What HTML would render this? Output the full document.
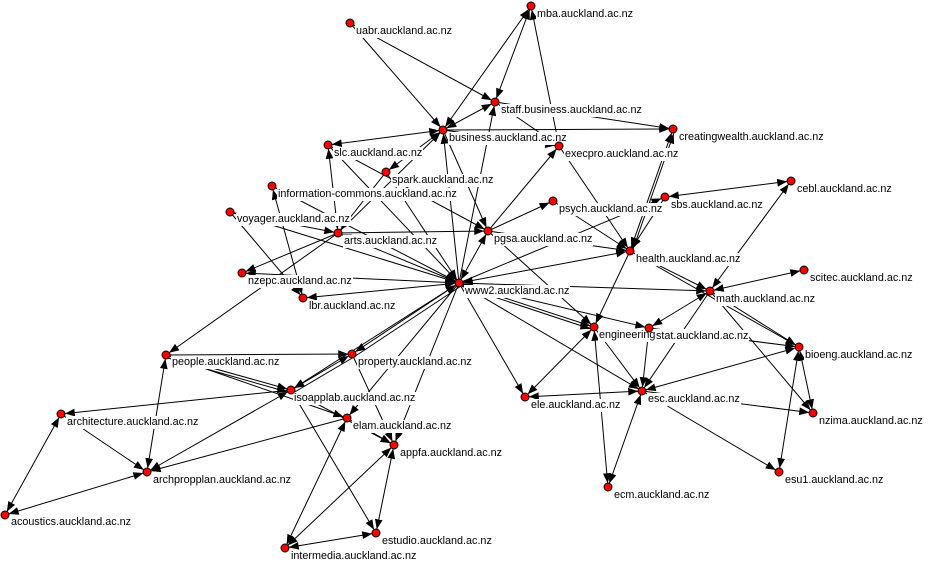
<!DOCTYPE html>
<html>
<head>
<meta charset="utf-8">
<style>
html,body{margin:0;padding:0;background:#fff;}
#wrap{position:relative;width:928px;height:573px;overflow:hidden;background:#fff;}
svg{position:absolute;left:0;top:0;}
#edges{z-index:1;}
#labels{position:absolute;left:0;top:0;width:928px;height:573px;z-index:2;}
#nodes{z-index:3;}
#labels span{position:absolute;font-family:"Liberation Sans",Arial,sans-serif;font-size:10.8px;line-height:13px;height:13px;background:#fff;color:#000;padding:0 1px;white-space:nowrap;}
line{stroke:#000;stroke-width:1;}
line.e{marker-end:url(#a);}
line.b{marker-start:url(#a);marker-end:url(#a);}
circle{fill:#ff0000;stroke:#000;stroke-width:1;}
</style>
</head>
<body>
<div id="wrap">
<svg id="edges" width="928" height="573" viewBox="0 0 928 573">
<defs>
<marker id="a" markerUnits="userSpaceOnUse" orient="auto-start-reverse" refX="0" refY="0" markerWidth="20" markerHeight="20" overflow="visible">
<path d="M-4.5,0 L-13.5,-3.5 L-13.5,3.5 Z" fill="#000" stroke="#000" stroke-width="0.5"/>
</marker>
</defs>
<!-- business cluster -->
<line class="e" x1="350" y1="23" x2="443" y2="130"/>
<line class="e" x1="350" y1="23" x2="495" y2="102"/>
<line class="b" x1="531" y1="6" x2="443" y2="130"/>
<line class="b" x1="531" y1="6" x2="495" y2="102"/>
<line class="e" x1="559" y1="146" x2="531" y2="6"/>
<line class="b" x1="495" y1="102" x2="443" y2="130"/>
<line class="b" x1="443" y1="130" x2="328" y2="145"/>
<line class="e" x1="443" y1="130" x2="673" y2="129"/>
<line class="e" x1="495" y1="102" x2="673" y2="129"/>
<line class="e" x1="443" y1="130" x2="559" y2="146"/>
<line class="e" x1="495" y1="102" x2="559" y2="146"/>
<line class="b" x1="443" y1="130" x2="386" y2="172"/>
<line class="e" x1="338" y1="233" x2="443" y2="130"/>
<line class="e" x1="459" y1="283" x2="443" y2="130"/>
<line class="e" x1="443" y1="130" x2="488" y2="231"/>
<line class="e" x1="459" y1="283" x2="495" y2="102"/>
<!-- slc / spark / info / voyager / arts -->
<line class="b" x1="328" y1="145" x2="338" y2="233"/>
<line class="e" x1="328" y1="145" x2="459" y2="283"/>
<line class="e" x1="328" y1="145" x2="488" y2="231"/>
<line class="e" x1="386" y1="172" x2="459" y2="283"/>
<line class="e" x1="386" y1="172" x2="338" y2="233"/>
<line class="e" x1="272" y1="186" x2="459" y2="283"/>
<line class="b" x1="303" y1="298" x2="272" y2="186"/>
<line class="e" x1="230" y1="212" x2="303" y2="298"/>
<line class="e" x1="230" y1="212" x2="338" y2="233"/>
<line class="e" x1="230" y1="212" x2="459" y2="283"/>
<line class="e" x1="338" y1="233" x2="242" y2="273"/>
<line class="e" x1="338" y1="233" x2="166" y2="355"/>
<line class="e" x1="338" y1="233" x2="488" y2="231"/>
<line class="b" x1="338" y1="233" x2="459" y2="283"/>
<line class="b" x1="242" y1="273" x2="459" y2="283"/>
<line class="b" x1="459" y1="283" x2="303" y2="298"/>
<!-- pgsa / health cluster -->
<line class="e" x1="488" y1="231" x2="559" y2="146"/>
<line class="e" x1="488" y1="231" x2="553" y2="201"/>
<line class="e" x1="488" y1="231" x2="630" y2="251"/>
<line class="e" x1="488" y1="231" x2="594" y2="327"/>
<line class="b" x1="459" y1="283" x2="488" y2="231"/>
<line class="e" x1="559" y1="146" x2="630" y2="251"/>
<line class="b" x1="673" y1="129" x2="630" y2="251"/>
<line class="b" x1="675" y1="130" x2="632" y2="252"/>
<line class="b" x1="665" y1="197" x2="791" y2="181"/>
<line class="e" x1="665" y1="197" x2="630" y2="251"/>
<line class="e" x1="459" y1="283" x2="665" y2="197"/>
<line class="e" x1="553" y1="201" x2="630" y2="251"/>
<line class="b" x1="710" y1="291" x2="791" y2="181"/>
<line class="b" x1="710" y1="291" x2="804" y2="270"/>
<line class="b" x1="459" y1="283" x2="630" y2="251"/>
<line class="e" x1="630" y1="251" x2="710" y2="291"/>
<line class="e" x1="630" y1="251" x2="594" y2="327"/>
<line class="e" x1="630" y1="251" x2="799" y2="347"/>
<line class="e" x1="459" y1="283" x2="710" y2="291"/>
<line class="b" x1="710" y1="291" x2="649" y2="328"/>
<line class="e" x1="710" y1="291" x2="799" y2="347"/>
<line class="e" x1="710" y1="291" x2="813" y2="413"/>
<line class="e" x1="710" y1="291" x2="642" y2="391"/>
<line class="e" x1="459" y1="283" x2="649" y2="328"/>
<line class="b" x1="459" y1="283" x2="594" y2="327"/>
<line class="e" x1="461" y1="286" x2="594" y2="330"/>
<line class="e" x1="594" y1="327" x2="642" y2="391"/>
<line class="b" x1="594" y1="327" x2="608" y2="487"/>
<line class="b" x1="525" y1="397" x2="594" y2="327"/>
<line class="e" x1="649" y1="328" x2="642" y2="391"/>
<line class="e" x1="649" y1="328" x2="799" y2="347"/>
<line class="e" x1="459" y1="283" x2="642" y2="391"/>
<line class="b" x1="525" y1="397" x2="642" y2="391"/>
<line class="b" x1="799" y1="347" x2="642" y2="391"/>
<line class="e" x1="642" y1="391" x2="813" y2="413"/>
<line class="e" x1="642" y1="391" x2="779" y2="472"/>
<line class="b" x1="608" y1="487" x2="642" y2="391"/>
<line class="b" x1="799" y1="347" x2="813" y2="413"/>
<line class="b" x1="799" y1="347" x2="779" y2="472"/>
<line class="e" x1="459" y1="283" x2="525" y2="397"/>
<!-- lower-left cluster -->
<line class="e" x1="166" y1="355" x2="352" y2="354"/>
<line class="e" x1="166" y1="355" x2="291" y2="390"/>
<line class="e" x1="168" y1="358" x2="291" y2="393"/>
<line class="e" x1="166" y1="355" x2="347" y2="418"/>
<line class="b" x1="166" y1="355" x2="147" y2="472"/>
<line class="e" x1="291" y1="390" x2="61" y2="414"/>
<line class="e" x1="61" y1="414" x2="147" y2="472"/>
<line class="b" x1="61" y1="414" x2="5" y2="515"/>
<line class="b" x1="5" y1="515" x2="147" y2="472"/>
<line class="b" x1="291" y1="390" x2="147" y2="472"/>
<line class="e" x1="347" y1="418" x2="147" y2="472"/>
<line class="b" x1="352" y1="354" x2="291" y2="390"/>
<line x1="354" y1="357" x2="293" y2="393"/>
<line class="e" x1="459" y1="283" x2="347" y2="418"/>
<line class="e" x1="459" y1="283" x2="394" y2="445"/>
<line class="e" x1="352" y1="354" x2="394" y2="445"/>
<line class="e" x1="347" y1="418" x2="394" y2="445"/>
<line class="e" x1="291" y1="390" x2="394" y2="445"/>
<line class="b" x1="394" y1="445" x2="376" y2="533"/>
<line class="e" x1="291" y1="390" x2="376" y2="533"/>
<line class="b" x1="285" y1="548" x2="376" y2="533"/>
<line class="b" x1="285" y1="548" x2="347" y2="418"/>
<line class="b" x1="285" y1="548" x2="394" y2="445"/>
<line class="b" x1="459" y1="283" x2="352" y2="354"/>
<line x1="461" y1="286" x2="354" y2="357"/>
<line class="b" x1="459" y1="283" x2="291" y2="390"/>
</svg>

<div id="labels">
<span style="left:536px;top:7.5px">mba.auckland.ac.nz</span>
<span style="left:355px;top:24.5px">uabr.auckland.ac.nz</span>
<span style="left:500px;top:103.5px">staff.business.auckland.ac.nz</span>
<span style="left:448px;top:131.5px">business.auckland.ac.nz</span>
<span style="left:333px;top:146.5px">slc.auckland.ac.nz</span>
<span style="left:391px;top:173.5px">spark.auckland.ac.nz</span>
<span style="left:277px;top:187.5px">information-commons.auckland.ac.nz</span>
<span style="left:678px;top:130.5px">creatingwealth.auckland.ac.nz</span>
<span style="left:564px;top:147.5px">execpro.auckland.ac.nz</span>
<span style="left:796px;top:182.5px">cebl.auckland.ac.nz</span>
<span style="left:670px;top:198.5px">sbs.auckland.ac.nz</span>
<span style="left:558px;top:202.5px">psych.auckland.ac.nz</span>
<span style="left:493px;top:232.5px">pgsa.auckland.ac.nz</span>
<span style="left:635px;top:252.5px">health.auckland.ac.nz</span>
<span style="left:809px;top:271.5px">scitec.auckland.ac.nz</span>
<span style="left:236px;top:212.5px">voyager.auckland.ac.nz</span>
<span style="left:343px;top:234.5px">arts.auckland.ac.nz</span>
<span style="left:247px;top:274.5px">nzepc.auckland.ac.nz</span>
<span style="left:308px;top:299.5px">lbr.auckland.ac.nz</span>
<span style="left:464px;top:284.5px">www2.auckland.ac.nz</span>
<span style="left:715px;top:292.5px">math.auckland.ac.nz</span>
<span style="left:598px;top:328.5px">engineering.auckland.ac.nz</span>
<span style="left:655px;top:329.5px">stat.auckland.ac.nz</span>
<span style="left:804px;top:348.5px">bioeng.auckland.ac.nz</span>
<span style="left:647px;top:392.5px">esc.auckland.ac.nz</span>
<span style="left:818px;top:414.5px">nzima.auckland.ac.nz</span>
<span style="left:784px;top:473.5px">esu1.auckland.ac.nz</span>
<span style="left:613px;top:488.5px">ecm.auckland.ac.nz</span>
<span style="left:171px;top:355.5px">people.auckland.ac.nz</span>
<span style="left:357px;top:355.5px">property.auckland.ac.nz</span>
<span style="left:293px;top:391.5px">isoapplab.auckland.ac.nz</span>
<span style="left:66px;top:415.5px">architecture.auckland.ac.nz</span>
<span style="left:152px;top:473.5px">archpropplan.auckland.ac.nz</span>
<span style="left:10px;top:515.5px">acoustics.auckland.ac.nz</span>
<span style="left:352px;top:419.5px">elam.auckland.ac.nz</span>
<span style="left:399px;top:446.5px">appfa.auckland.ac.nz</span>
<span style="left:381px;top:534.5px">estudio.auckland.ac.nz</span>
<span style="left:290px;top:549.5px">intermedia.auckland.ac.nz</span>
<span style="left:530px;top:398.5px">ele.auckland.ac.nz</span>
</div>

<svg id="nodes" width="928" height="573" viewBox="0 0 928 573">
<circle cx="531" cy="6" r="4"/>
<circle cx="350" cy="23" r="4"/>
<circle cx="495" cy="102" r="4"/>
<circle cx="443" cy="130" r="4"/>
<circle cx="328" cy="145" r="4"/>
<circle cx="386" cy="172" r="4"/>
<circle cx="272" cy="186" r="4"/>
<circle cx="673" cy="129" r="4"/>
<circle cx="559" cy="146" r="4"/>
<circle cx="791" cy="181" r="4"/>
<circle cx="665" cy="197" r="4"/>
<circle cx="553" cy="201" r="4"/>
<circle cx="488" cy="231" r="4"/>
<circle cx="630" cy="251" r="4"/>
<circle cx="804" cy="270" r="4"/>
<circle cx="230" cy="212" r="4"/>
<circle cx="338" cy="233" r="4"/>
<circle cx="242" cy="273" r="4"/>
<circle cx="303" cy="298" r="4"/>
<circle cx="459" cy="283" r="4"/>
<circle cx="710" cy="291" r="4"/>
<circle cx="594" cy="327" r="4"/>
<circle cx="649" cy="328" r="4"/>
<circle cx="799" cy="347" r="4"/>
<circle cx="642" cy="391" r="4"/>
<circle cx="813" cy="413" r="4"/>
<circle cx="779" cy="472" r="4"/>
<circle cx="608" cy="487" r="4"/>
<circle cx="166" cy="355" r="4"/>
<circle cx="352" cy="354" r="4"/>
<circle cx="291" cy="390" r="4"/>
<circle cx="61" cy="414" r="4"/>
<circle cx="147" cy="472" r="4"/>
<circle cx="5" cy="515" r="4"/>
<circle cx="347" cy="418" r="4"/>
<circle cx="394" cy="445" r="4"/>
<circle cx="376" cy="533" r="4"/>
<circle cx="285" cy="548" r="4"/>
<circle cx="525" cy="397" r="4"/>
</svg>
</div>
</body>
</html>
